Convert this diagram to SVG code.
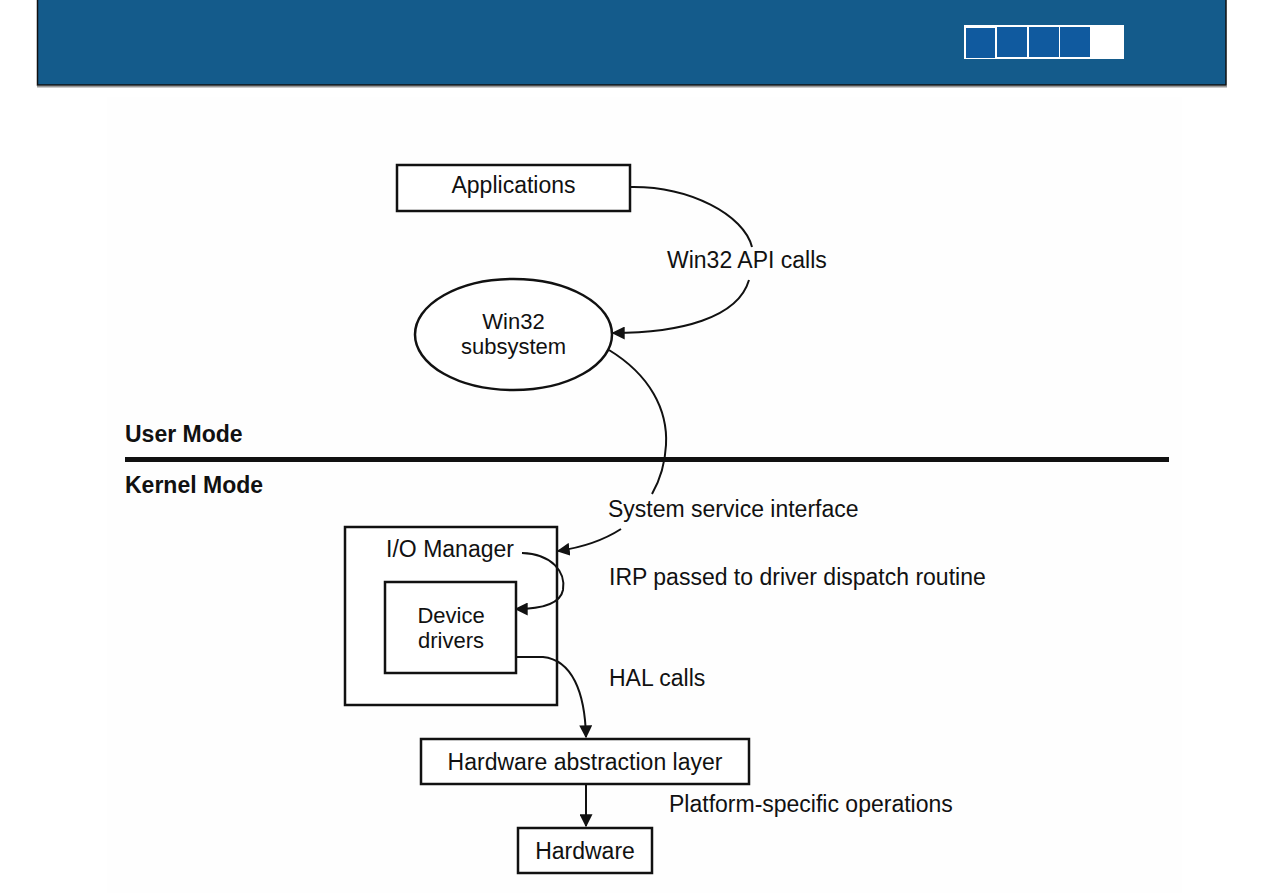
<svg xmlns="http://www.w3.org/2000/svg" width="1263" height="893" viewBox="0 0 1263 893">
<style>
text{font-family:"Liberation Sans",Arial,sans-serif;font-size:23px;fill:#111}
.b{font-weight:bold}
.t2{font-size:22px}
.box{fill:#fff;stroke:#111;stroke-width:2.5}
.c{fill:none;stroke:#111;stroke-width:2}
</style>
<defs>
<marker id="ah" viewBox="0 0 10 10" refX="9" refY="5" markerWidth="6.5" markerHeight="6.5" markerUnits="strokeWidth" orient="auto">
<path d="M0,0 L10,5 L0,10 Z" fill="#111"/>
</marker>
</defs>
<rect width="1263" height="893" fill="#fff"/>
<rect x="107" y="97" width="1075" height="796" fill="#fefefe"/>
<g id="header">
<rect x="37" y="86" width="1190" height="1.5" fill="#999"/>
<rect x="37.5" y="-1" width="1188.5" height="86" fill="#145b8b" stroke="#111" stroke-width="1.5"/>
<rect x="964" y="25" width="160" height="34" fill="#fff"/>
<rect x="966" y="28" width="29" height="30" fill="#105a9f"/>
<rect x="997" y="27" width="30" height="30" fill="#105a9f"/>
<rect x="1029" y="27" width="30" height="30" fill="#105a9f"/>
<rect x="1060" y="27" width="30" height="30" fill="#105a9f"/>
</g>
<g id="modes">
<line x1="125" y1="459.5" x2="1169" y2="459.5" stroke="#111" stroke-width="5"/>
<text class="b" x="125" y="442">User Mode</text>
<text class="b" x="125" y="493">Kernel Mode</text>
</g>
<g id="applications">
<rect class="box" x="397" y="165" width="233" height="46"/>
<text x="513.5" y="193" text-anchor="middle">Applications</text>
</g>
<g id="win32">
<ellipse class="box" cx="513.5" cy="334.5" rx="98.5" ry="55.5"/>
<text class="t2" x="513.5" y="329" text-anchor="middle">Win32</text>
<text class="t2" x="513.5" y="354" text-anchor="middle">subsystem</text>
</g>
<g id="iomanager">
<rect class="box" x="345" y="527" width="212" height="178"/>
<text x="450" y="557" text-anchor="middle">I/O Manager</text>
</g>
<g id="drivers">
<rect class="box" x="385" y="582" width="131" height="91"/>
<text class="t2" x="451" y="623" text-anchor="middle">Device</text>
<text class="t2" x="451" y="648" text-anchor="middle">drivers</text>
</g>
<g id="hal">
<rect class="box" x="421" y="739" width="328" height="45"/>
<text x="585" y="770" text-anchor="middle">Hardware abstraction layer</text>
</g>
<g id="hardware">
<rect class="box" x="518" y="828" width="134" height="45"/>
<text x="585" y="859" text-anchor="middle">Hardware</text>
</g>
<g id="connectors">
<path class="c" d="M630,187 C690,186 744,215 752,247"/>
<path class="c" d="M749,280 C738,318 680,333 613,333" marker-end="url(#ah)"/>
<path class="c" d="M609,350 C650,375 668,410 666,445 C665,465 660,480 652,494"/>
<path class="c" d="M621,529 C604,540 585,547 558,551" marker-end="url(#ah)"/>
<path class="c" d="M522,553 C552,554 566,572 563,590 C560,605 540,609 516,609" marker-end="url(#ah)"/>
<path class="c" d="M516,657 L543,657 C572,660 585,692 586,737" marker-end="url(#ah)"/>
<path class="c" d="M586,784 L586,826" marker-end="url(#ah)"/>
</g>
<g id="labels">
<text x="667" y="268">Win32 API calls</text>
<text x="608" y="517">System service interface</text>
<text x="609" y="585">IRP passed to driver dispatch routine</text>
<text x="609" y="686">HAL calls</text>
<text x="669" y="812">Platform-specific operations</text>
</g>
</svg>
